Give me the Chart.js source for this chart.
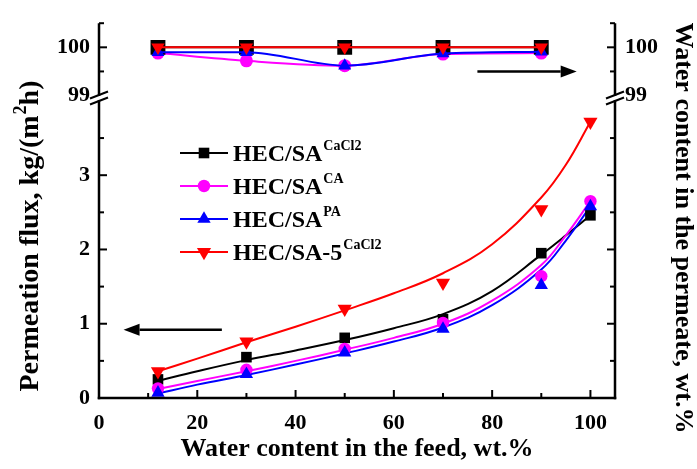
<!DOCTYPE html>
<html>
<head>
<meta charset="utf-8">
<script src="https://cdn.jsdelivr.net/npm/chart.js@4/dist/chart.umd.min.js"></script>
<style>
  html, body { margin: 0; padding: 0; background: #fff; }
  #wrap { position: relative; width: 697px; height: 469px; }
</style>
</head>
<body>
<div id="wrap"><canvas id="c" width="697" height="469"></canvas></div>
<script>
// Feed water content (wt.%) of the measured points
const feedWater = [12, 30, 50, 70, 90, 100];

// Permeation flux, kg/(m2 h)
const fluxCaCl2  = [0.25, 0.55, 0.81, 1.06, 1.95, 2.46];
const fluxCA     = [0.13, 0.38, 0.66, 1.01, 1.64, 2.65];
const fluxPA     = [0.07, 0.32, 0.61, 0.93, 1.52, 2.58];
const flux5CaCl2 = [0.36, 0.76, 1.20, 1.55, 2.54, 3.72];

// Fitted flux trend lines
const fitFeed       = [12, 20, 30, 40, 50, 60, 70, 80, 90, 95, 100];
const fitCaCl2      = [0.23, 0.36, 0.51, 0.64, 0.78, 0.94, 1.13, 1.44, 1.93, 2.19, 2.46];
const fitCA         = [0.12, 0.23, 0.36, 0.50, 0.65, 0.81, 1.00, 1.31, 1.79, 2.19, 2.65];
const fitPA         = [0.06, 0.18, 0.31, 0.45, 0.60, 0.76, 0.95, 1.25, 1.73, 2.12, 2.58];
const fit5CaCl2     = [0.36, 0.53, 0.75, 0.96, 1.18, 1.41, 1.68, 2.07, 2.70, 3.14, 3.72];

// Water content in the permeate, wt.%
const permFeed      = [12, 30, 50, 70, 90];
const permCaCl2     = [100, 100, 100, 100, 100];
const permCA        = [99.88, 99.72, 99.62, 99.86, 99.88];
const permPA        = [99.90, 99.90, 99.62, 99.87, 99.91];
const perm5CaCl2    = [100, 100, 100, 100, 100];

// Tick values
const xTicks        = [0, 20, 40, 60, 80, 100];
const xMinorTicks   = [10, 30, 50, 70, 90];
const fluxTicks     = [0, 1, 2, 3];
const fluxMinorTicks= [0.5, 1.5, 2.5, 3.5];
const permTicks     = [99, 100];
const permMinorTicks= [99.5, 100.5];

// Legend entries
const seriesNames   = ['HEC/SA', 'HEC/SA', 'HEC/SA', 'HEC/SA-5'];
const seriesSups    = ['CaCl2', 'CA', 'PA', 'CaCl2'];

const BLACK = '#000000', MAGENTA = '#ff00ff', BLUE = '#0000ff', RED = '#ff0000';
const colors = [BLACK, MAGENTA, BLUE, RED];
const styles = [
  { pointStyle: 'rect', radius: 7.5, rotation: 0 },
  { pointStyle: 'circle', radius: 6.2, rotation: 0 },
  { pointStyle: 'triangle', radius: 7.7, rotation: 0 },
  { pointStyle: 'triangle', radius: 8.2, rotation: 180 }
];
const FONT = "'Liberation Serif', 'Times New Roman', serif";

const xy = (xs, ys) => xs.map((x, i) => ({ x, y: ys[i] }));

function fitLine(data, color, order) {
  return { data, yAxisID: 'yBot', showLine: true, borderColor: color, borderWidth: 2, pointRadius: 0,
           tension: 0.4, fill: false, order };
}
function markers(data, i, order) {
  return { data, yAxisID: 'yBot', showLine: false, backgroundColor: colors[i], borderWidth: 0,
           pointStyle: styles[i].pointStyle, pointRadius: styles[i].radius,
           pointRotation: styles[i].rotation, order };
}
function permSeries(data, i, order, smooth, radius) {
  return { data, yAxisID: 'yTop', showLine: true, borderColor: colors[i], backgroundColor: colors[i],
           borderWidth: 2, pointBorderWidth: 0, pointStyle: styles[i].pointStyle,
           pointRadius: radius, pointRotation: styles[i].rotation,
           cubicInterpolationMode: smooth ? 'monotone' : 'default', tension: 0, fill: false, order };
}

const datasets = [
  fitLine(xy(fitFeed, fitCaCl2), BLACK, 20),
  fitLine(xy(fitFeed, fitCA), MAGENTA, 19),
  fitLine(xy(fitFeed, fitPA), BLUE, 18),
  fitLine(xy(fitFeed, fit5CaCl2), RED, 17),
  markers(xy(feedWater, fluxCaCl2), 0, 4),
  markers(xy(feedWater, fluxCA), 1, 3),
  markers(xy(feedWater, fluxPA), 2, 2),
  markers(xy(feedWater, flux5CaCl2), 3, 1),
  permSeries(xy(permFeed, permCA), 1, 9, true, 6.5),
  permSeries(xy(permFeed, permCaCl2), 0, 8, false, 10.5),
  permSeries(xy(permFeed, permPA), 2, 7, true, 7.5),
  permSeries(xy(permFeed, perm5CaCl2), 3, 6, false, 7.7)
];

const tickFont = { family: FONT, size: 22, weight: 'bold' };
function yScale(position, stack, weight, min, max, ticks, showLabels, width, pad) {
  return {
    type: 'linear', position, stack, stackWeight: weight, min, max,
    afterBuildTicks: s => { s.ticks = ticks.map(v => ({ value: v })); },
    afterFit: s => { s.width = width; },
    grid: { display: false, drawTicks: false }, border: { display: false },
    ticks: { display: showLabels, font: tickFont, color: '#000', padding: pad }
  };
}

function seg(ctx, x1, y1, x2, y2) { ctx.beginPath(); ctx.moveTo(x1, y1); ctx.lineTo(x2, y2); ctx.stroke(); }

function arrow(ctx, x1, y, x2) {
  const dir = Math.sign(x2 - x1), hl = 16, hw = 6;
  seg(ctx, x1, y, x2 - dir * hl, y);
  ctx.beginPath();
  ctx.moveTo(x2, y); ctx.lineTo(x2 - dir * hl, y - hw); ctx.lineTo(x2 - dir * hl, y + hw);
  ctx.closePath(); ctx.fill();
}

// text with a raised suffix, returns total width
function supText(ctx, x, y, base, sup, size, supSize, rise, measureOnly) {
  ctx.font = `bold ${size}px ${FONT}`;
  const w1 = ctx.measureText(base).width;
  ctx.font = `bold ${supSize}px ${FONT}`;
  const w2 = ctx.measureText(sup).width;
  if (!measureOnly) {
    ctx.font = `bold ${size}px ${FONT}`;
    ctx.fillText(base, x, y);
    ctx.font = `bold ${supSize}px ${FONT}`;
    ctx.fillText(sup, x + w1 + 1, y - rise);
  }
  return w1 + w2 + 1;
}

const decorations = {
  id: 'decorations',
  afterDraw(chart) {
    const { ctx, chartArea: a, scales: s } = chart;
    ctx.save();
    ctx.strokeStyle = '#000'; ctx.fillStyle = '#000';

    // frame: left, right and bottom axis lines
    ctx.lineWidth = 2.5;
    seg(ctx, a.left, a.top, a.left, a.bottom + 1.25);
    seg(ctx, a.right, a.top, a.right, a.bottom + 1.25);
    seg(ctx, a.left - 1.25, a.bottom, a.right + 1.25, a.bottom);

    // inward tick marks
    ctx.lineWidth = 2;
    const yTicks = (scale, vals, len) => vals.forEach(v => {
      const y = scale.getPixelForValue(v);
      seg(ctx, a.left, y, a.left + len, y);
      seg(ctx, a.right, y, a.right - len, y);
    });
    yTicks(s.yBot, fluxTicks.filter(v => v > 0), 8);
    yTicks(s.yBot, fluxMinorTicks, 5);
    yTicks(s.yTop, [100], 8);
    yTicks(s.yTop, permMinorTicks, 5);
    xTicks.filter(v => v > 0).forEach(v => { const x = s.x.getPixelForValue(v); seg(ctx, x, a.bottom, x, a.bottom - 8); });
    xMinorTicks.forEach(v => { const x = s.x.getPixelForValue(v); seg(ctx, x, a.bottom, x, a.bottom - 5); });

    // axis breaks between the two panels
    const yb = s.yBot.top;
    [a.left, a.right].forEach(ax => {
      ctx.fillStyle = '#fff';
      ctx.fillRect(ax - 2, yb - 2, 4, 4);
      ctx.fillStyle = '#000';
      ctx.lineWidth = 2;
      seg(ctx, ax - 9, yb + 0.5, ax + 9, yb - 6.5);
      seg(ctx, ax - 9, yb + 6.5, ax + 9, yb - 0.5);
    });

    // arrows pointing to the matching axis
    ctx.lineWidth = 2.5;
    arrow(ctx, s.x.getPixelForValue(25), s.yBot.getPixelForValue(0.92), s.x.getPixelForValue(5));
    arrow(ctx, s.x.getPixelForValue(77), s.yTop.getPixelForValue(99.5), s.x.getPixelForValue(97.2));

    // legend
    ctx.textBaseline = 'alphabetic';
    ctx.textAlign = 'left';
    for (let i = 0; i < 4; i++) {
      const y = 153 + i * 33;
      ctx.strokeStyle = colors[i]; ctx.fillStyle = colors[i]; ctx.lineWidth = 2;
      seg(ctx, 180, y, 228, y);
      Chart.helpers.drawPoint(ctx, { pointStyle: styles[i].pointStyle, radius: styles[i].radius,
                                     rotation: styles[i].rotation, borderWidth: 0 }, 204, y);
      ctx.fillStyle = '#000';
      supText(ctx, 233, y + 8, seriesNames[i], seriesSups[i], 24, 14, 11);
    }

    // axis titles
    ctx.fillStyle = '#000';
    ctx.textAlign = 'center'; ctx.textBaseline = 'middle';
    ctx.font = `bold 26px ${FONT}`;
    ctx.fillText('Water content in the feed, wt.%', (a.left + a.right) / 2, 449);

    ctx.save();
    ctx.translate(683, 228);
    ctx.rotate(Math.PI / 2);
    ctx.fillText('Water content in the permeate, wt.%', 0, 0);
    ctx.restore();

    ctx.save();
    ctx.translate(31, 236);
    ctx.rotate(-Math.PI / 2);
    ctx.textAlign = 'left';
    const w = supText(ctx, 0, 0, 'Permeation flux, kg/(m', '2', 28, 18, 0, true);
    ctx.font = `bold 28px ${FONT}`;
    const wh = ctx.measureText('h)').width;
    const x0 = -(w + wh) / 2;
    supText(ctx, x0, 0, 'Permeation flux, kg/(m', '2', 28, 18, 10);
    ctx.font = `bold 28px ${FONT}`;
    ctx.fillText('h)', x0 + w, 0);
    ctx.restore();

    ctx.restore();
  }
};

new Chart(document.getElementById('c'), {
  type: 'scatter',
  data: { datasets },
  options: {
    responsive: false, animation: false, devicePixelRatio: 1,
    layout: { padding: { top: 19, left: 0, right: 0, bottom: 0 } },
    plugins: { legend: { display: false }, tooltip: { enabled: false }, title: { display: false } },
    elements: { line: { borderCapStyle: 'round' } },
    scales: {
      x: {
        type: 'linear', position: 'bottom', min: 0, max: 105,
        afterBuildTicks: s => { s.ticks = xTicks.map(v => ({ value: v })); },
        afterFit: s => { s.height = 71; },
        grid: { display: false, drawTicks: false }, border: { display: false },
        ticks: { font: tickFont, color: '#000', padding: 12, maxRotation: 0, autoSkip: false }
      },
      yBot: yScale('left', 'L', 303, 0, 4.04, fluxTicks, true, 99, 9),
      yTop: yScale('left', 'L', 75.5, 98.95, 100.5, permTicks, true, 99, 9),
      rTop: yScale('right', 'R', 75.5, 98.95, 100.5, permTicks, true, 82, 10),
      rBot: yScale('right', 'R', 303, 0, 4.04, fluxTicks, false, 82, 10)
    }
  },
  plugins: [decorations]
});
</script>
</body>
</html>
